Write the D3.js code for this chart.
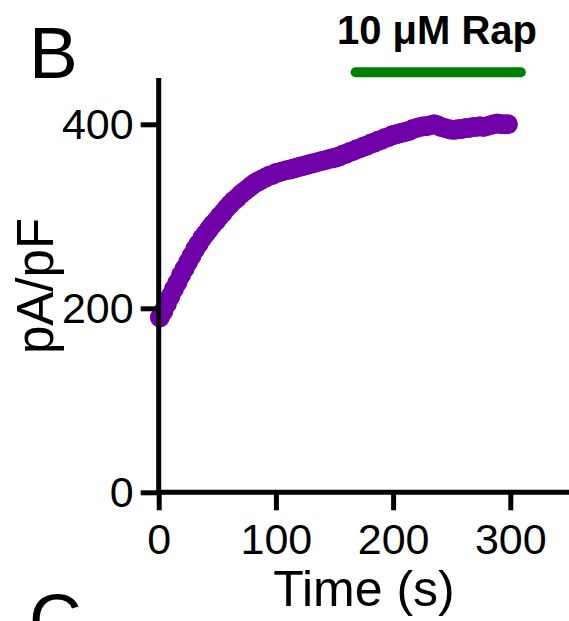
<!DOCTYPE html>
<html>
<head>
<meta charset="utf-8">
<script src="https://cdn.jsdelivr.net/npm/d3@7"></script>
<style>
  html, body { margin: 0; padding: 0; background: #fff; }
  svg { display: block; }
  text { font-family: "Liberation Sans", Arial, sans-serif; fill: #000; }
</style>
</head>
<body>
<svg id="chart" width="569" height="621"></svg>
<script>
// ---- data ----
const timeS = [1,4,7,10,13,16,19,22,25,28,31,34,37,40,43,46,49,52,55,58,61,64,67,70,73,76,79,82,85,88,91,94,97,100,
  103,106,109,112,115,118,121,124,127,130,133,136,139,142,145,148,151,154,157,160,163,166,169,172,175,178,181,184,187,190,
  193,196,199,202,205,208,211,214,217,220,223,226,229,232,235,238,241,244,247,250,253,256,259,262,265,268,271,274,277,280,
  283,286,289,292,295,298];
const currentDensity = [190,197,205,213,221,228,236,243,250,257,264,270,276,281,286,291,295,300,304,309,313,317,320,324,327,330,333,336,338,340,342,344,345,347,
  348,349,350,351,352,353,354,355,356,357,358,359,360,361,362,363,364,365,367,368,370,371,373,374,376,377,379,380,382,383,
  385,386,388,389,390,391,392,393,395,396,397,398,398,399,400,399,397,396,395,394,394,395,395,396,396,397,397,398,397,398,
  399,400,401,400,400,400];
const xTicks = [0, 100, 200, 300];
const yTicks = [0, 200, 400];
const rapStart = 168, rapEnd = 309;
const rapLabel = "10 \u03BCM Rap";
const panelLabel = "B", nextPanelLabel = "C";
const xTitle = "Time (s)", yTitle = "pA/pF";

// ---- layout ----
const svg = d3.select("#chart");
const x = d3.scaleLinear().domain([0, 300]).range([158.7, 510.3]);
const y = d3.scaleLinear().domain([0, 400]).range([492.3, 124.3]);
const purple = "#7000A8", green = "#008000";
const tickFont = 43, axisW = 5;

// data points
svg.append("g").selectAll("circle")
  .data(timeS.map((t, i) => ({ t, v: currentDensity[i] })))
  .join("circle")
  .attr("cx", d => x(d.t))
  .attr("cy", d => y(d.v))
  .attr("r", 10)
  .attr("fill", purple);

// y axis
const yAxis = svg.append("g").attr("transform", `translate(${x(0)},0)`)
  .call(d3.axisLeft(y).tickValues(yTicks).tickSize(18).tickPadding(7).tickSizeOuter(0));
yAxis.select(".domain").remove();
yAxis.append("line").attr("x1", 0).attr("x2", 0).attr("y1", 78).attr("y2", y(0))
  .attr("stroke", "#000").attr("stroke-width", axisW);

// x axis
const xAxis = svg.append("g").attr("transform", `translate(0,${y(0)})`)
  .call(d3.axisBottom(x).tickValues(xTicks).tickSize(18).tickPadding(13).tickSizeOuter(0));
xAxis.select(".domain").remove();
xAxis.append("line").attr("x1", x(0) - 2.5).attr("x2", 575).attr("y1", 0).attr("y2", 0)
  .attr("stroke", "#000").attr("stroke-width", axisW);

[yAxis, xAxis].forEach(g => {
  g.selectAll(".tick line").attr("stroke", "#000").attr("stroke-width", axisW);
  g.selectAll(".tick text").attr("font-size", tickFont)
    .attr("font-family", "'Liberation Sans', Arial, sans-serif").attr("fill", "#000");
});

// axis titles
svg.append("text").attr("x", 364).attr("y", 606).attr("text-anchor", "middle")
  .attr("font-size", 50).text(xTitle);
svg.append("text").attr("transform", "translate(53,286) rotate(-90)").attr("text-anchor", "middle")
  .attr("font-size", 51).text(yTitle);

// panel labels
svg.append("text").attr("x", 29).attr("y", 78).attr("font-size", 73).text(panelLabel);
svg.append("text").attr("x", 29).attr("y", 645).attr("font-size", 73).text(nextPanelLabel);

// rapamycin bar
svg.append("line").attr("x1", x(rapStart)).attr("x2", x(rapEnd)).attr("y1", 72.3).attr("y2", 72.3)
  .attr("stroke", green).attr("stroke-width", 10).attr("stroke-linecap", "round");
svg.append("text").attr("x", 437).attr("y", 44).attr("text-anchor", "middle")
  .attr("font-size", 40).attr("font-weight", "bold").text(rapLabel);
</script>
</body>
</html>
